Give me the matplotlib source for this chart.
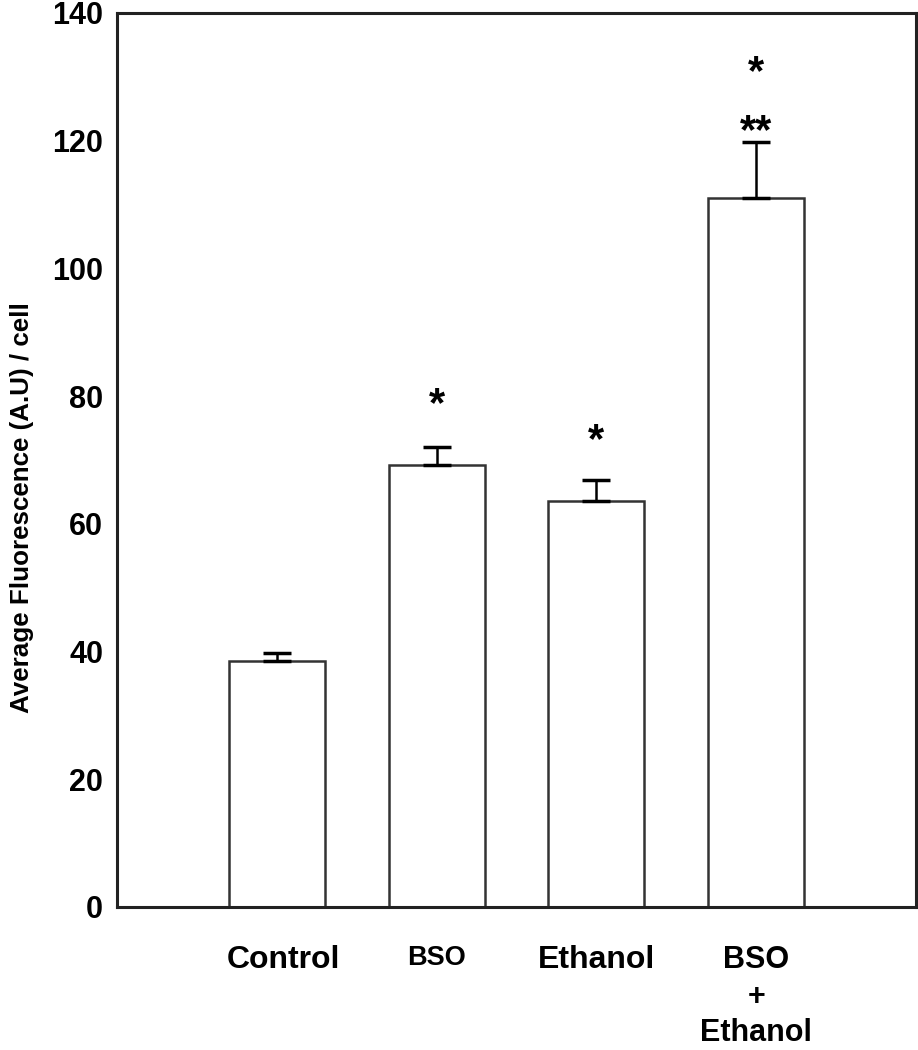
import matplotlib.pyplot as plt

# Data
groups = ['Control', 'BSO', 'Ethanol', 'BSO\n+\nEthanol']
means = [38.5, 69.2, 63.6, 111.0]
errors = [1.3, 2.8, 3.3, 8.8]
stars = ['', '*', '*', '**']
extra_stars = ['', '', '', '*']
yticks = [0, 20, 40, 60, 80, 100, 120, 140]

plt.rcParams['font.family'] = ['Liberation Sans', 'DejaVu Sans']

fig = plt.figure(figsize=(9.18, 10.5), dpi=100)
ax = fig.add_axes([117 / 918, 1 - 907 / 1050, (916 - 117) / 918, (907 - 13) / 1050])

x = list(range(len(groups)))
ax.bar(x, means, width=0.6, color='white', edgecolor='#333333', linewidth=1.8, zorder=2)
ax.errorbar(x, means, yerr=[[0] * len(errors), errors], fmt='none', ecolor='black',
            elinewidth=1.8, capsize=10, capthick=2.5, zorder=3)

# significance marks
star_gap = [0, 6.6, 6.1, 1.6]
for i in x:
    top = means[i] + errors[i]
    if stars[i]:
        ax.text(i, top + star_gap[i], stars[i], ha='center', va='center', fontsize=30,
                fontweight='bold')
    if extra_stars[i]:
        ax.text(i, top + 10.8, extra_stars[i], ha='center', va='center', fontsize=30,
                fontweight='bold')

ax.set_xlim(-1, 4)
ax.set_ylim(0, 140)
ax.set_yticks(yticks)
ax.set_yticklabels([str(t) for t in yticks], fontsize=22, fontweight='bold',
                   family=['Liberation Sans Narrow', 'Liberation Sans', 'DejaVu Sans'])
ax.tick_params(axis='y', length=0, pad=10)
ax.set_xticks(x)
ax.set_xticklabels([])
ax.tick_params(axis='x', length=0)

sizes = [23, 19.5, 23, 22]
for i, lab in enumerate(groups):
    ax.text(i + (0.04 if i == 0 else 0), -5.9, lab, ha='center', va='top',
            fontsize=sizes[i], fontweight='bold', linespacing=1.3)

ax.set_ylabel('Average Fluorescence (A.U) / cell', fontsize=18.7, fontweight='bold')
ax.yaxis.set_label_coords(-0.104, 0.447)

for s in ax.spines.values():
    s.set_linewidth(2.2)
    s.set_color('#222222')

fig.savefig('out.png', dpi=100)
